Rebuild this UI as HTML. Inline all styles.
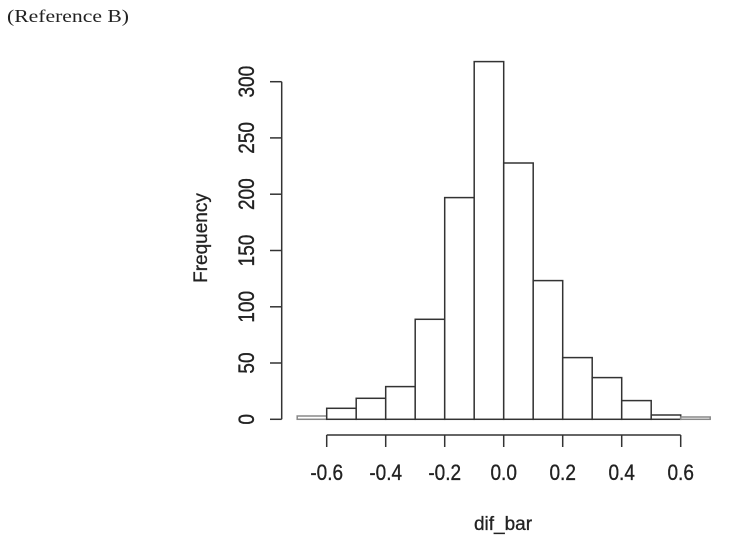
<!DOCTYPE html>
<html><head><style>body{margin:0;background:#fff}svg{display:block}</style></head>
<body>
<svg width="736" height="548" viewBox="0 0 736 548" xmlns="http://www.w3.org/2000/svg">
<rect width="736" height="548" fill="#fff"/>
<text x="7" y="22" font-family="Liberation Serif, serif" font-size="18" fill="#222" textLength="122" lengthAdjust="spacingAndGlyphs">(Reference B)</text>
<g stroke="#333" stroke-width="1.5" fill="#fff">
<rect x="297.2" y="416" width="29.5" height="3.3" stroke="#888"/>
<rect x="326.7" y="408.3" width="29.5" height="11"/>
<rect x="356.2" y="398.3" width="29.5" height="21"/>
<rect x="385.7" y="386.6" width="29.5" height="32.7"/>
<rect x="415.2" y="319.3" width="29.5" height="100"/>
<rect x="444.7" y="197.6" width="29.5" height="221.7"/>
<rect x="474.2" y="61.6" width="29.5" height="357.7"/>
<rect x="503.7" y="163" width="29.5" height="256.3"/>
<rect x="533.2" y="280.6" width="29.5" height="138.7"/>
<rect x="562.7" y="357.6" width="29.5" height="61.7"/>
<rect x="592.2" y="377.6" width="29.5" height="41.7"/>
<rect x="621.7" y="400.6" width="29.5" height="18.7"/>
<rect x="651.2" y="415" width="29.5" height="4.3"/>
<rect x="680.7" y="417" width="29.5" height="2.3" stroke="#888"/>
</g>
<g stroke="#333" stroke-width="1.5" fill="none">
<line x1="281.7" y1="81.7" x2="281.7" y2="419.3"/>
<line x1="270" y1="81.7" x2="281.7" y2="81.7"/>
<line x1="270" y1="137.9" x2="281.7" y2="137.9"/>
<line x1="270" y1="194.2" x2="281.7" y2="194.2"/>
<line x1="270" y1="250.5" x2="281.7" y2="250.5"/>
<line x1="270" y1="306.8" x2="281.7" y2="306.8"/>
<line x1="270" y1="363" x2="281.7" y2="363"/>
<line x1="270" y1="419.3" x2="281.7" y2="419.3"/>
<line x1="326.7" y1="435" x2="680.7" y2="435"/>
<line x1="326.7" y1="435" x2="326.7" y2="447"/>
<line x1="385.7" y1="435" x2="385.7" y2="447"/>
<line x1="444.7" y1="435" x2="444.7" y2="447"/>
<line x1="503.7" y1="435" x2="503.7" y2="447"/>
<line x1="562.7" y1="435" x2="562.7" y2="447"/>
<line x1="621.7" y1="435" x2="621.7" y2="447"/>
<line x1="680.7" y1="435" x2="680.7" y2="447"/>
</g>
<g font-family="Liberation Sans, sans-serif" font-size="19" fill="#222" text-anchor="middle" stroke="#222" stroke-width="0.3">
<g transform="translate(0,480) scale(1,1.15)">
<text x="326.7" y="0">-0.6</text><text x="385.7" y="0">-0.4</text><text x="444.7" y="0">-0.2</text>
<text x="503.7" y="0">0.0</text><text x="562.7" y="0">0.2</text><text x="621.7" y="0">0.4</text><text x="680.7" y="0">0.6</text>
</g>
<g transform="translate(254,0) scale(1.15,1)">
<text transform="translate(0,81.7) rotate(-90)">300</text>
<text transform="translate(0,137.9) rotate(-90)">250</text>
<text transform="translate(0,194.2) rotate(-90)">200</text>
<text transform="translate(0,250.5) rotate(-90)">150</text>
<text transform="translate(0,306.8) rotate(-90)">100</text>
<text transform="translate(0,363) rotate(-90)">50</text>
<text transform="translate(0,419.3) rotate(-90)">0</text>
</g>
<text transform="translate(207,238) rotate(-90)" font-size="19">Frequency</text>
<text x="503" y="530" font-size="19">dif_bar</text>
</g>
</svg>
</body></html>
